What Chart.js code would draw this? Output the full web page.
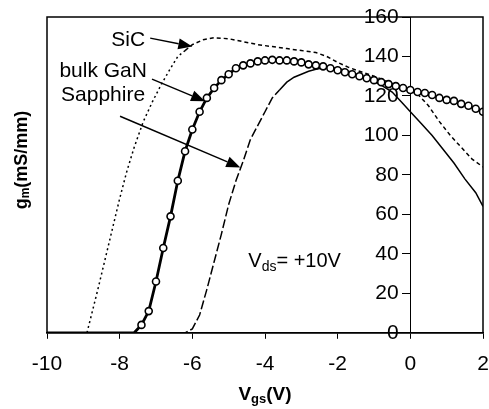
<!DOCTYPE html>
<html>
<head>
<meta charset="utf-8">
<script src="https://cdn.jsdelivr.net/npm/chart.js@4"></script>
<style>
  html, body { margin: 0; padding: 0; background: #fff; }
  #wrap { width: 489px; height: 409px; }
</style>
</head>
<body>
<div id="wrap"><canvas id="myChart" width="489" height="409"></canvas></div>
<script>
// gm (mS/mm) vs Vgs (V), Vds = +10V
var xTicks = [-10, -8, -6, -4, -2, 0, 2];
var yTicks = [0, 20, 40, 60, 80, 100, 120, 140, 160];

// bulk GaN (solid line + circles)
var ganVgs = [-10, -7.6, -7.4, -7.2, -7.0, -6.8, -6.6, -6.4, -6.2, -6.0, -5.8, -5.6, -5.4, -5.2, -5.0,
  -4.8, -4.6, -4.4, -4.2, -4.0, -3.8, -3.6, -3.4, -3.2, -3.0, -2.8, -2.6, -2.4, -2.2, -2.0,
  -1.8, -1.6, -1.4, -1.2, -1.0, -0.8, -0.6, -0.4, -0.2, 0.0, 0.2, 0.4, 0.6, 0.8, 1.0,
  1.2, 1.4, 1.6, 1.8, 2.0];
var ganGm = [0, 0, 4, 11, 26, 43, 59, 77, 92, 103, 112, 119, 124, 128, 131,
  134, 135.5, 136.5, 137.5, 138, 138.3, 138, 138, 137.5, 137, 136, 135.5, 135, 134, 133,
  132, 131, 130, 129, 128, 127, 126, 125, 124, 123, 122, 121.5, 120.5, 119, 118,
  117.5, 116, 115, 113.5, 112];

// SiC (dotted / short dash)
var sicVgs = [-10, -8.9, -8.6, -8.3, -8.0, -7.8, -7.6, -7.35, -7.1, -6.85, -6.6, -6.4, -6.2, -6.0,
  -5.7, -5.4, -5.0, -4.6, -4.2, -3.8, -3.4, -3.0, -2.6, -2.3, -2.0, -1.7, -1.4, -1.0,
  -0.6, -0.2, 0.2, 0.5, 0.8, 1.1, 1.4, 1.7, 2.0];
var sicGm = [0, 0, 22, 45, 68, 82, 94, 107, 117, 126, 134, 140, 143, 146,
  148.5, 149.5, 149, 147.5, 146, 145, 144, 143, 142, 140, 137, 134.5, 132.5, 130,
  127, 124, 121, 115, 107, 100, 94, 88, 84];

// Sapphire (long dash)
var sapVgs = [-10, -6.2, -6.0, -5.8, -5.6, -5.4, -5.2, -5.0, -4.8, -4.6, -4.4, -4.2, -4.0, -3.8,
  -3.6, -3.4, -3.2, -3.0, -2.8, -2.6, -2.3, -2.0, -1.7, -1.4, -1.1, -0.8, -0.5, -0.2,
  0.0, 0.3, 0.6, 0.9, 1.2, 1.5, 1.8, 2.0];
var sapGm = [0, 0, 2, 9, 22, 36, 50, 65, 77, 87, 98, 105, 112, 119,
  123, 127, 129.5, 131, 132.5, 133.5, 134.5, 134, 132.5, 130.5, 128, 125.5, 122, 116,
  112, 106, 100, 93, 86, 78, 71, 64];

var FONT = '"Liberation Sans", Arial, sans-serif';

function toXY(xs, ys) {
  var out = [];
  for (var i = 0; i < xs.length; i++) out.push({ x: xs[i], y: ys[i] });
  return out;
}

// texte avec indice
function drawParts(ctx, x, y, parts, align) {
  var w = 0;
  parts.forEach(function (p) { ctx.font = p.font; w += ctx.measureText(p.t).width; });
  var cx = align === 'right' ? x - w : (align === 'center' ? x - w / 2 : x);
  parts.forEach(function (p) {
    ctx.font = p.font;
    ctx.fillText(p.t, cx, y + (p.dy || 0));
    cx += ctx.measureText(p.t).width;
  });
}

function arrow(ctx, x1, y1, x2, y2) {
  var a = Math.atan2(y2 - y1, x2 - x1);
  var len = 14, half = 5.5;
  ctx.beginPath();
  ctx.moveTo(x1, y1);
  ctx.lineTo(x2 - Math.cos(a) * len, y2 - Math.sin(a) * len);
  ctx.lineWidth = 1.5;
  ctx.stroke();
  ctx.beginPath();
  ctx.moveTo(x2, y2);
  ctx.lineTo(x2 - Math.cos(a) * len - Math.sin(a) * half, y2 - Math.sin(a) * len + Math.cos(a) * half);
  ctx.lineTo(x2 - Math.cos(a) * len + Math.sin(a) * half, y2 - Math.sin(a) * len - Math.cos(a) * half);
  ctx.closePath();
  ctx.fill();
}

var decor = {
  id: 'decor',
  afterDraw: function (chart) {
    var ctx = chart.ctx, a = chart.chartArea;
    var sx = chart.scales.x, sy = chart.scales.y;
    ctx.save();
    ctx.strokeStyle = '#000';
    ctx.fillStyle = '#000';
    ctx.lineWidth = 1.5;
    ctx.strokeRect(a.left, a.top, a.right - a.left, a.bottom - a.top);

    ctx.textBaseline = 'middle';
    ctx.textAlign = 'left';
    var lab = '21px ' + FONT;
    drawParts(ctx, sx.getPixelForValue(-7.3), sy.getPixelForValue(148), [{ t: 'SiC', font: lab }], 'right');
    drawParts(ctx, sx.getPixelForValue(-7.25), sy.getPixelForValue(132.5), [{ t: 'bulk GaN', font: lab }], 'right');
    drawParts(ctx, sx.getPixelForValue(-7.3), sy.getPixelForValue(120.5), [{ t: 'Sapphire', font: lab }], 'right');

    arrow(ctx, sx.getPixelForValue(-7.16), sy.getPixelForValue(149.3), sx.getPixelForValue(-6.0), sy.getPixelForValue(145));
    arrow(ctx, sx.getPixelForValue(-7.11), sy.getPixelForValue(128.5), sx.getPixelForValue(-5.65), sy.getPixelForValue(117.3));
    arrow(ctx, sx.getPixelForValue(-7.99), sy.getPixelForValue(109.7), sx.getPixelForValue(-4.68), sy.getPixelForValue(83.8));

    drawParts(ctx, sx.getPixelForValue(-4.46), sy.getPixelForValue(36), [
      { t: 'V', font: '20px ' + FONT },
      { t: 'ds', font: '14px ' + FONT, dy: 5 },
      { t: '= +10V', font: '20px ' + FONT }
    ], 'left');

    // titres des axes
    drawParts(ctx, (a.left + a.right) / 2, 395, [
      { t: 'V', font: 'bold 19px ' + FONT },
      { t: 'gs', font: 'bold 13px ' + FONT, dy: 4 },
      { t: '(V)', font: 'bold 19px ' + FONT }
    ], 'center');

    ctx.translate(22, 160);
    ctx.rotate(-Math.PI / 2);
    drawParts(ctx, 0, 0, [
      { t: 'g', font: 'bold 18px ' + FONT },
      { t: 'm', font: 'bold 12px ' + FONT, dy: 4 },
      { t: '(mS/mm)', font: 'bold 18px ' + FONT }
    ], 'center');
    ctx.restore();
  }
};

var ctx = document.getElementById('myChart').getContext('2d');
var myChart = new Chart(ctx, {
  type: 'line',
  data: {
    datasets: [
      {
        label: 'bulk GaN', data: toXY(ganVgs, ganGm),
        borderColor: '#000', borderWidth: 2.8, backgroundColor: '#fff',
        pointRadius: function (c) { return c.raw && c.raw.y === 0 ? 0 : 3.5; },
        pointBorderWidth: 1.6, pointBorderColor: '#000', pointBackgroundColor: '#fff'
      },
      {
        label: 'SiC', data: toXY(sicVgs, sicGm),
        borderColor: '#000', borderWidth: 1.5, pointRadius: 0,
        segment: { borderDash: function (c) { return c.p0.parsed.x < -6.2 ? [2, 3] : [4, 3]; } }
      },
      {
        label: 'Sapphire', data: toXY(sapVgs, sapGm),
        borderColor: '#000', borderWidth: 1.5, pointRadius: 0,
        segment: { borderDash: function (c) { return c.p0.parsed.x < -3.6 ? [9, 3] : []; } }
      }
    ]
  },
  options: {
    responsive: false,
    animation: false,
    layout: { padding: { left: 47, right: 6, top: 17, bottom: 19 } },
    plugins: { legend: { display: false }, tooltip: { enabled: false } },
    scales: {
      x: {
        type: 'linear', position: 'bottom', min: -10, max: 2,
        afterBuildTicks: function (s) { s.ticks = xTicks.map(function (v) { return { value: v }; }); },
        afterFit: function (s) { s.paddingLeft = 0; s.paddingRight = 0; },
        ticks: { color: '#000', font: { family: FONT, size: 21 }, padding: 13, maxRotation: 0 },
        grid: { drawOnChartArea: false, tickLength: 6, color: '#000', lineWidth: 1 },
        border: { display: true, color: '#000', width: 1.5 }
      },
      y: {
        type: 'linear', position: { x: 0 }, min: 0, max: 160,
        afterBuildTicks: function (s) { s.ticks = yTicks.map(function (v) { return { value: v }; }); },
        // l'axe est posé à x=0 : les espaces décalent les libellés à gauche des graduations
        ticks: { color: '#000', font: { family: FONT, size: 21 }, callback: function (v) { return v + '  '; } },
        grid: { drawOnChartArea: false, tickLength: 8, color: '#000', lineWidth: 1 },
        border: { display: true, color: '#000', width: 1 }
      }
    }
  },
  plugins: [decor]
});
</script>
</body>
</html>
